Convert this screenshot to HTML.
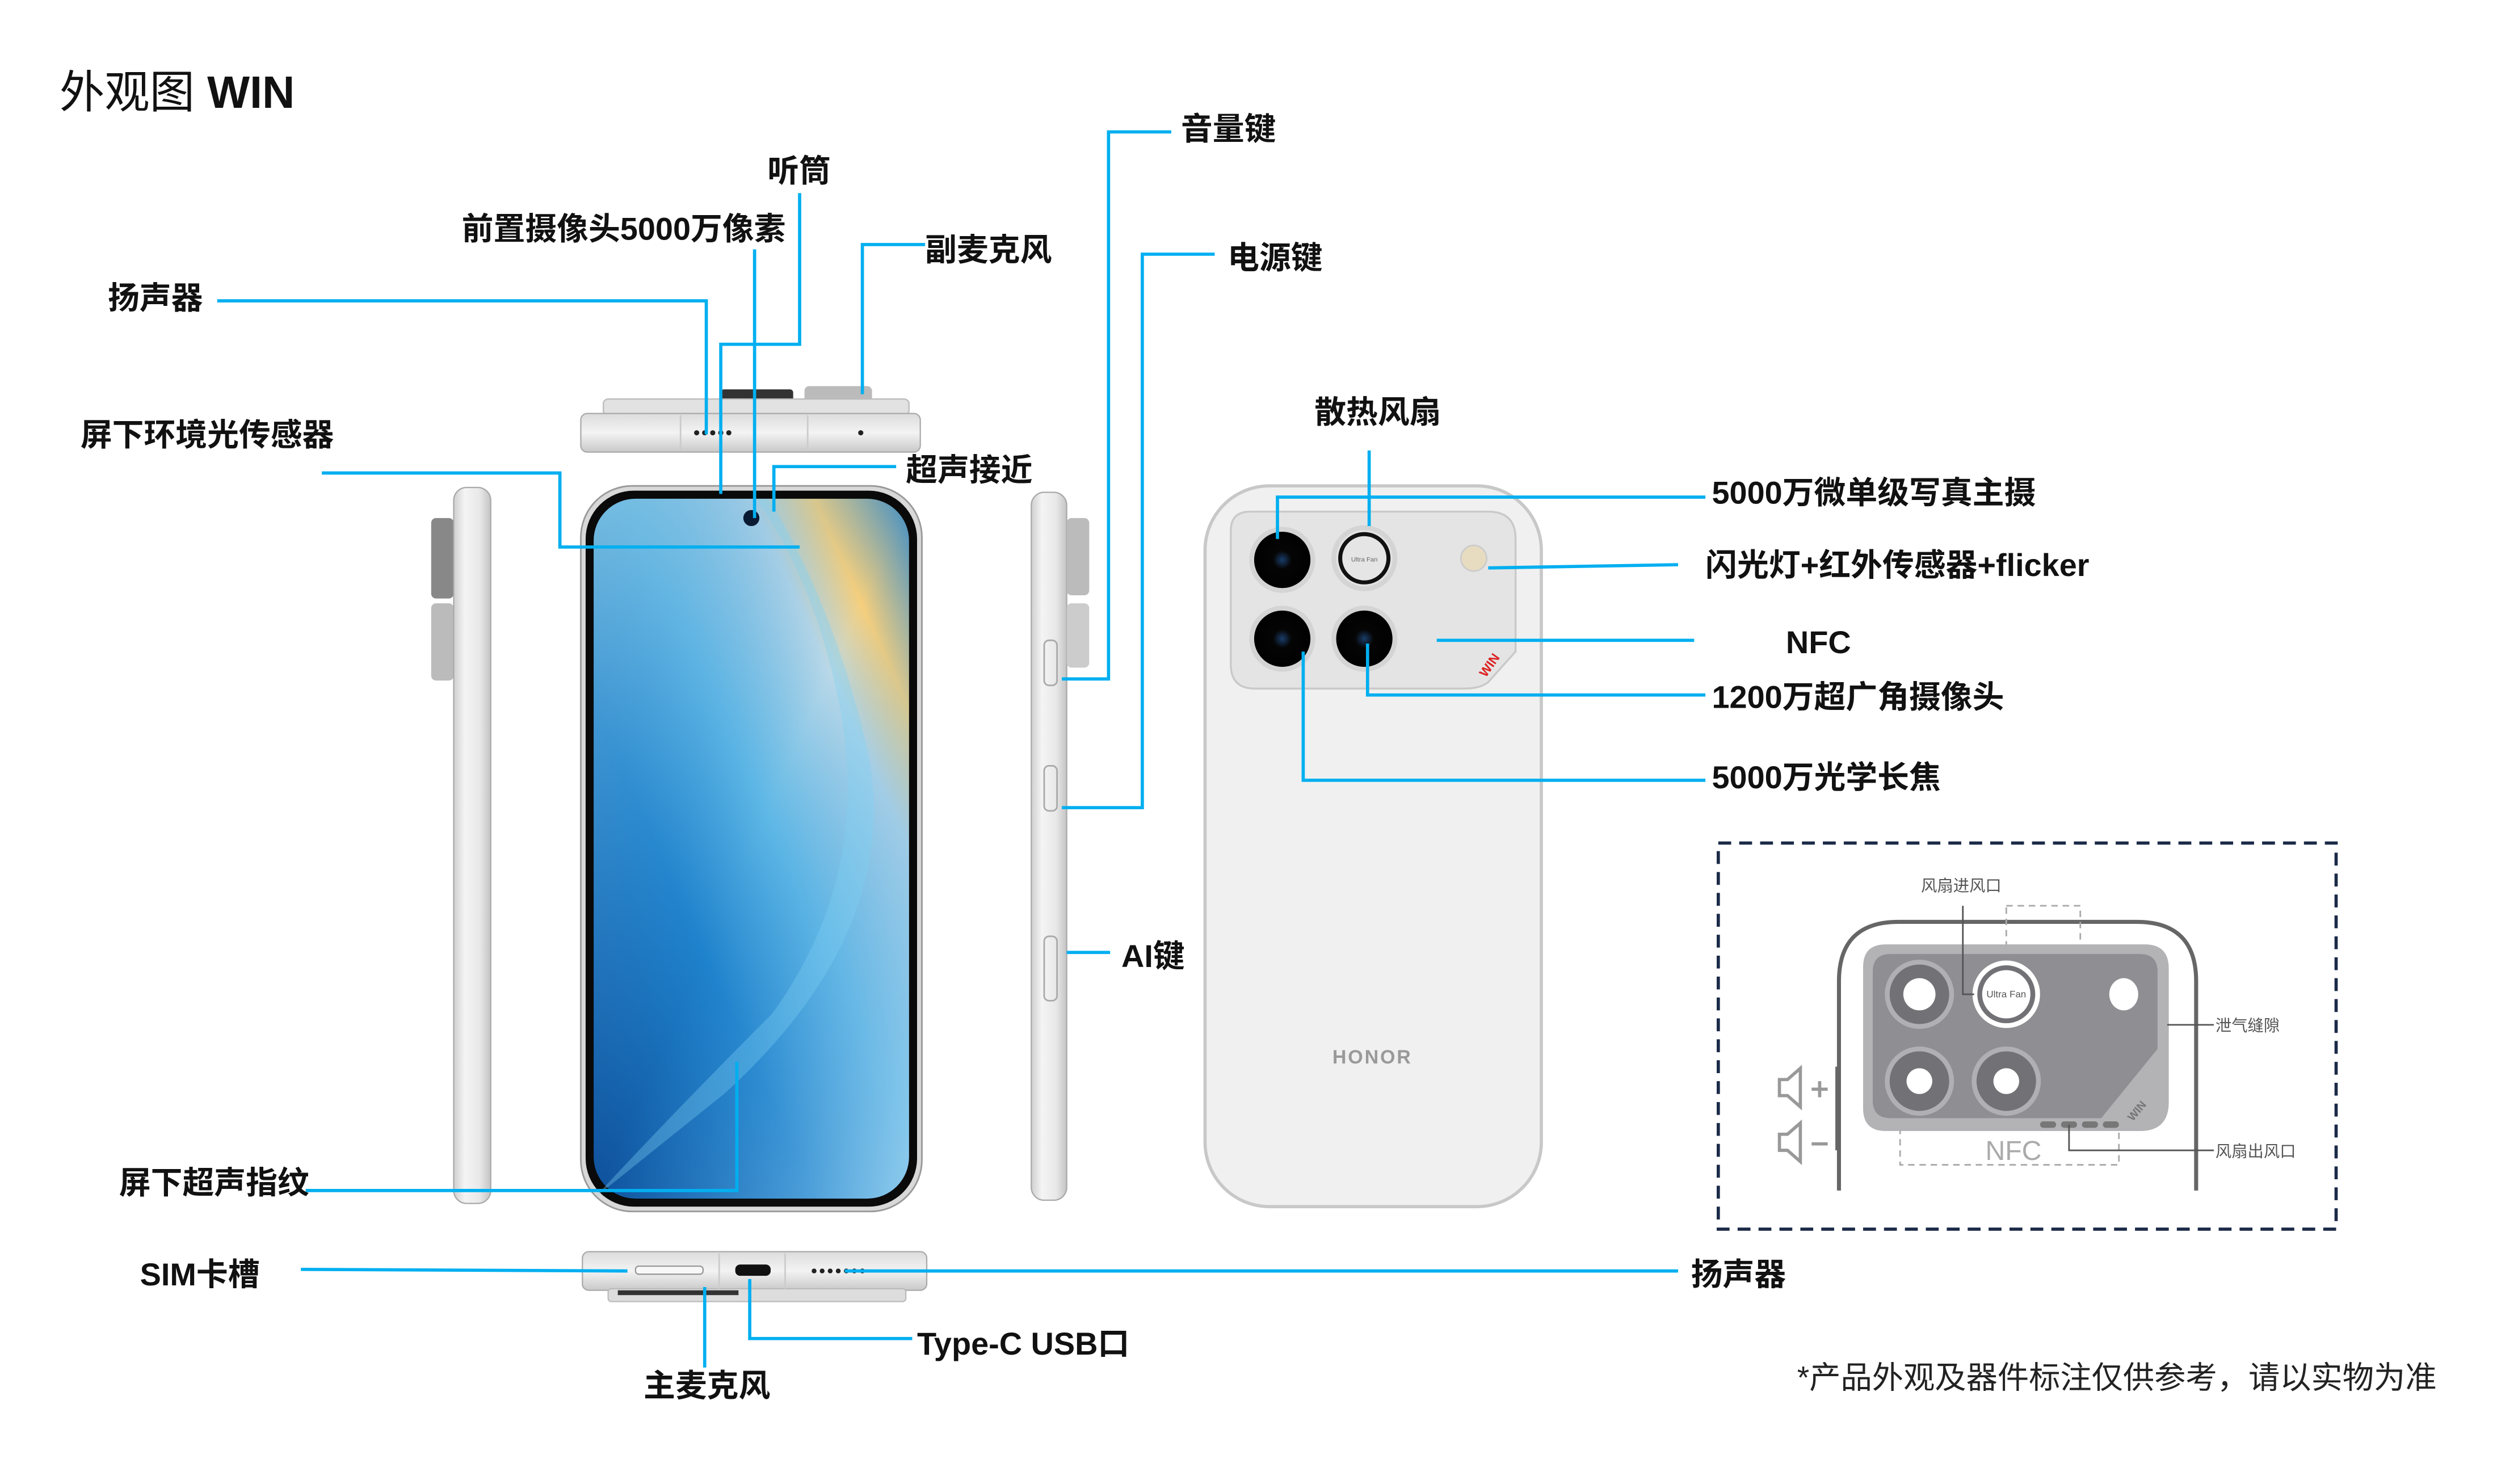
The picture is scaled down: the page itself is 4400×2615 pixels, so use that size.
<!DOCTYPE html>
<html><head><meta charset="utf-8"><style>
html,body{margin:0;padding:0;background:#fff;}
svg{display:block;}
text{font-family:"Liberation Sans","Noto Sans CJK SC",sans-serif;}
.lb{font-size:19.7px;font-weight:bold;fill:#111;}
.ln{fill:none;stroke:#00aff0;stroke-width:2;}
</style></head><body>
<svg width="4400" height="2615" viewBox="0 0 1552 922.4" preserveAspectRatio="none" xmlns="http://www.w3.org/2000/svg">
<defs>
<linearGradient id="scr" x1="0" y1="1" x2="1" y2="0">
<stop offset="0" stop-color="#0f4f9a"/><stop offset="0.35" stop-color="#1f82cc"/><stop offset="0.55" stop-color="#5fb8e6"/><stop offset="0.75" stop-color="#b9d8e8"/><stop offset="0.85" stop-color="#f6cf7c"/><stop offset="1" stop-color="#3a8cc8"/>
</linearGradient>
<linearGradient id="scr2" x1="0" y1="0" x2="1" y2="1">
<stop offset="0" stop-color="#8fc6e0" stop-opacity="0.6"/><stop offset="0.5" stop-color="#2f8fd6" stop-opacity="0"/><stop offset="1" stop-color="#a9d8f2" stop-opacity="0.7"/>
</linearGradient>
<linearGradient id="metal" x1="0" y1="0" x2="1" y2="0">
<stop offset="0" stop-color="#cfcfcf"/><stop offset="0.3" stop-color="#f4f4f4"/><stop offset="0.7" stop-color="#e8e8e8"/><stop offset="1" stop-color="#c4c4c4"/>
</linearGradient>
<linearGradient id="metalv" x1="0" y1="0" x2="0" y2="1">
<stop offset="0" stop-color="#dcdcdc"/><stop offset="0.5" stop-color="#f3f3f3"/><stop offset="1" stop-color="#c9c9c9"/>
</linearGradient>
<radialGradient id="lens"><stop offset="0" stop-color="#1a3d6a"/><stop offset="0.3" stop-color="#050505"/><stop offset="1" stop-color="#000"/></radialGradient>
</defs>

<text x="37" y="67" style="font-size:28px;fill:#111;">外观图 <tspan font-weight="bold">WIN</tspan></text>

<!-- top view -->
<rect x="448" y="242" width="45" height="9" fill="#333" rx="2"/>
<rect x="500" y="240" width="42" height="11" fill="#bbb" rx="3"/>
<rect x="375" y="248" width="190" height="10" fill="#e2e2e2" stroke="#bbb" stroke-width="0.8" rx="3"/>
<rect x="361" y="257" width="211" height="24" fill="url(#metalv)" stroke="#aaa" stroke-width="0.8" rx="4"/>
<line x1="423" y1="258" x2="423" y2="280" stroke="#ccc"/><line x1="502" y1="258" x2="502" y2="280" stroke="#ccc"/>
<g fill="#222"><circle cx="433" cy="269" r="1.6"/><circle cx="438" cy="269" r="1.6"/><circle cx="443" cy="269" r="1.6"/><circle cx="448" cy="269" r="1.6"/><circle cx="453" cy="269" r="1.6"/><circle cx="535" cy="269" r="1.6"/></g>

<!-- front -->
<rect x="361" y="302" width="212" height="451" rx="32" fill="#d8d8d8" stroke="#999" stroke-width="1"/>
<rect x="364" y="305" width="206" height="445" rx="30" fill="#0a0a0a"/>
<rect x="369" y="310" width="196" height="435" rx="26" fill="url(#scr)"/>
<rect x="369" y="310" width="196" height="435" rx="26" fill="url(#scr2)"/>
<path d="M478 310 Q520 380 540 470 Q560 580 450 680 Q400 720 369 745 L369 745 Q420 690 480 630 Q545 540 520 430 Q505 360 470 310Z" fill="#7fd0f3" opacity="0.35"/>
<circle cx="467" cy="322" r="5" fill="#0b1a33"/>

<!-- bottom view -->
<rect x="362" y="778" width="214" height="24" fill="url(#metalv)" stroke="#aaa" stroke-width="0.8" rx="4"/>
<rect x="378" y="801" width="185" height="8" fill="#ddd" stroke="#bbb" stroke-width="0.8" rx="2"/>
<line x1="447" y1="779" x2="447" y2="801" stroke="#ccc"/><line x1="488" y1="779" x2="488" y2="801" stroke="#ccc"/>
<rect x="395" y="787" width="42" height="5" rx="2" fill="#f8f8f8" stroke="#999" stroke-width="0.8"/>
<rect x="457" y="786" width="22" height="7" rx="3" fill="#111"/>
<g fill="#222"><circle cx="506" cy="790" r="1.5"/><circle cx="511" cy="790" r="1.5"/><circle cx="516" cy="790" r="1.5"/><circle cx="521" cy="790" r="1.5"/><circle cx="526" cy="790" r="1.5"/><circle cx="531" cy="790" r="1.5"/><circle cx="536" cy="790" r="1.5"/></g>
<rect x="384" y="802" width="75" height="3" fill="#333"/>

<!-- left side -->
<rect x="268" y="322" width="14" height="50" rx="3" fill="#888"/>
<rect x="268" y="375" width="14" height="48" rx="3" fill="#bbb"/>
<rect x="282" y="303" width="23" height="445" rx="8" fill="url(#metal)" stroke="#aaa" stroke-width="0.8"/>

<!-- right side -->
<rect x="641" y="306" width="22" height="440" rx="8" fill="url(#metal)" stroke="#aaa" stroke-width="0.8"/>
<rect x="663" y="322" width="14" height="48" rx="3" fill="#bbb"/>
<rect x="663" y="375" width="14" height="40" rx="3" fill="#ccc"/>
<rect x="649" y="398" width="8" height="28" rx="3" fill="none" stroke="#aaa"/>
<rect x="649" y="476" width="8" height="28" rx="3" fill="none" stroke="#aaa"/>
<rect x="649" y="582" width="8" height="40" rx="3" fill="none" stroke="#aaa"/>

<!-- back -->
<rect x="749" y="302" width="209" height="448" rx="40" fill="#f0f0f0" stroke="#c8c8c8" stroke-width="2"/>
<path d="M777 318 H925 Q942 318 942 335 V405 L925 424 Q920 428 910 428 H780 Q765 428 765 413 V330 Q765 318 777 318Z" fill="#e4e4e4" stroke="#c9c9c9" stroke-width="1.2"/>
<g stroke="#d4d4d4" stroke-width="3">
<circle cx="797" cy="348" r="19" fill="url(#lens)"/>
<circle cx="848" cy="347" r="19" fill="#e2e2e2"/>
<circle cx="797" cy="397" r="19" fill="url(#lens)"/>
<circle cx="848" cy="397" r="19" fill="url(#lens)"/>
</g>
<circle cx="848" cy="347" r="15" fill="#e5e5e5" stroke="#111" stroke-width="2.5"/>
<text x="848" y="349" text-anchor="middle" style="font-size:4px;fill:#666;">Ultra Fan</text>
<circle cx="916" cy="347" r="8" fill="#e8dcc0" stroke="#ccc"/>
<text x="928" y="415" transform="rotate(-55 928 415)" text-anchor="middle" style="font-size:8px;font-weight:bold;fill:#d22;">WIN</text>
<text x="853" y="661" text-anchor="middle" style="font-size:12px;font-weight:bold;fill:#999;letter-spacing:1px;">HONOR</text>

<!-- connectors -->
<polyline class="ln" points="135,187 439,187 439,270"/>
<polyline class="ln" points="469,155 469,322"/>
<polyline class="ln" points="497,120 497,214 448,214 448,307"/>
<polyline class="ln" points="575,152 536,152 536,245"/>
<polyline class="ln" points="200,294 348,294 348,340 497,340"/>
<polyline class="ln" points="557,290 481,290 481,318"/>
<polyline class="ln" points="728,82 689,82 689,422 660,422"/>
<polyline class="ln" points="755,158 710,158 710,502 660,502"/>
<polyline class="ln" points="690,592 663,592"/>
<polyline class="ln" points="190,740 458,740 458,660"/>
<polyline class="ln" points="187,789 390,790"/>
<polyline class="ln" points="438,850 438,800"/>
<polyline class="ln" points="567,832 466,832 466,795"/>
<polyline class="ln" points="1043,790 525,790"/>
<polyline class="ln" points="851,280 851,327"/>
<polyline class="ln" points="1060,309 794,309 794,335"/>
<polyline class="ln" points="1043,351 925,353"/>
<polyline class="ln" points="1053,398 893,398"/>
<polyline class="ln" points="1060,432 850,432 850,400"/>
<polyline class="ln" points="1060,485 810,485 810,405"/>

<!-- labels -->
<text class="lb" x="477" y="113">听筒</text>
<text class="lb" x="287" y="149">前置摄像头5000万像素</text>
<text class="lb" x="575" y="162">副麦克风</text>
<text class="lb" x="67" y="192">扬声器</text>
<text class="lb" x="50" y="277">屏下环境光传感器</text>
<text class="lb" x="563" y="299">超声接近</text>
<text class="lb" x="734" y="87">音量键</text>
<text class="lb" x="763" y="167">电源键</text>
<text class="lb" x="697" y="601">AI键</text>
<text class="lb" x="74" y="742">屏下超声指纹</text>
<text class="lb" x="87" y="799">SIM卡槽</text>
<text class="lb" x="400" y="868">主麦克风</text>
<text class="lb" x="570" y="842">Type-C USB口</text>
<text class="lb" x="1051" y="799">扬声器</text>
<text class="lb" x="817" y="263">散热风扇</text>
<text class="lb" x="1064" y="313">5000万微单级写真主摄</text>
<text class="lb" x="1060" y="358">闪光灯+红外传感器+flicker</text>
<text class="lb" x="1110" y="406">NFC</text>
<text class="lb" x="1064" y="440">1200万超广角摄像头</text>
<text class="lb" x="1064" y="490">5000万光学长焦</text>
<text x="1117" y="863" style="font-size:19.5px;fill:#222;">*产品外观及器件标注仅供参考，请以实物为准</text>

<!-- inset -->
<rect x="1068" y="524" width="384" height="240" fill="none" stroke="#1b2a48" stroke-width="2" stroke-dasharray="8,5"/>
<path d="M1143 740 V610 Q1143 573 1180 573 H1328 Q1365 573 1365 610 V740" fill="none" stroke="#666" stroke-width="2.5"/>
<line x1="1142" y1="663" x2="1142" y2="715" stroke="#666" stroke-width="2.5"/>
<rect x="1247" y="563" width="46" height="37" fill="none" stroke="#aaa" stroke-dasharray="4,3"/>
<rect x="1181" y="700" width="136" height="24" fill="none" stroke="#aaa" stroke-dasharray="4,3"/>
<path d="M1172 587 H1333 Q1348 587 1348 602 V685 Q1348 703 1330 703 H1172 Q1158 703 1158 689 V601 Q1158 587 1172 587Z" fill="#b3b3b6"/>
<path d="M1175 593 H1330 Q1341 593 1341 604 V652 L1306 695 H1175 Q1164 695 1164 684 V604 Q1164 593 1175 593Z" fill="#8e8e93"/>
<g stroke="#b0b0b4" stroke-width="3">
<circle cx="1193" cy="618" r="20" fill="#727276"/><circle cx="1193" cy="672" r="20" fill="#727276"/><circle cx="1247" cy="672" r="20" fill="#727276"/>
</g>
<circle cx="1193" cy="618" r="10" fill="#fff"/><circle cx="1193" cy="672" r="8" fill="#fff"/><circle cx="1247" cy="672" r="8" fill="#fff"/>
<circle cx="1247" cy="618" r="21" fill="#fff"/><circle cx="1247" cy="618" r="18" fill="#727276"/><circle cx="1247" cy="618" r="15" fill="#fff"/>
<text x="1247" y="620" text-anchor="middle" style="font-size:6px;fill:#555;">Ultra Fan</text>
<ellipse cx="1320" cy="618" rx="9" ry="10" fill="#fff"/>
<text x="1330" y="692" transform="rotate(-50 1330 692)" text-anchor="middle" style="font-size:7px;font-weight:bold;fill:#777;">WIN</text>
<g fill="#777"><rect x="1268" y="697" width="10" height="4" rx="2"/><rect x="1281" y="697" width="10" height="4" rx="2"/><rect x="1294" y="697" width="10" height="4" rx="2"/><rect x="1307" y="697" width="10" height="4" rx="2"/></g>
<text x="1234" y="721" style="font-size:17px;fill:#aaa;">NFC</text>
<polyline points="1220,563 1220,618 1227,618" fill="none" stroke="#555" stroke-width="1"/>
<polyline points="1347,637 1376,637" fill="none" stroke="#555" stroke-width="1"/>
<polyline points="1286,699 1286,715 1376,715" fill="none" stroke="#555" stroke-width="1"/>
<text x="1194" y="554" style="font-size:10px;fill:#555;">风扇进风口</text>
<text x="1377" y="641" style="font-size:10px;fill:#555;">泄气缝隙</text>
<text x="1377" y="719" style="font-size:10px;fill:#555;">风扇出风口</text>
<g fill="none" stroke="#999" stroke-width="2">
<path d="M1106 671 h5 l8 -7 v24 l-8 -7 h-5z"/><path d="M1126 677 h10 M1131 672 v10"/>
<path d="M1106 705 h5 l8 -7 v24 l-8 -7 h-5z"/><path d="M1126 711 h10"/>
</g>
</svg>
</body></html>
